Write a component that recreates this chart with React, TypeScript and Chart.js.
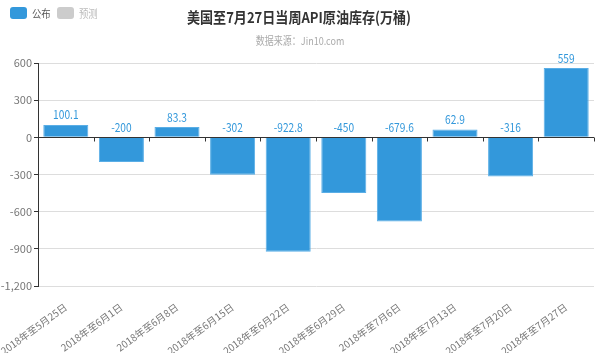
import React, { useEffect, useRef } from "react";
import { Chart, registerables } from "chart.js";

Chart.register(...registerables);

const categories = [
  "2018年至5月25日",
  "2018年至6月1日",
  "2018年至6月8日",
  "2018年至6月15日",
  "2018年至6月22日",
  "2018年至6月29日",
  "2018年至7月6日",
  "2018年至7月13日",
  "2018年至7月20日",
  "2018年至7月27日",
];
const published = [100.1, -200, 83.3, -302, -922.8, -450, -679.6, 62.9, -316, 559];
const forecast: (number | null)[] = [null, null, null, null, null, null, null, null, null, null];
const titleText = "美国至7月27日当周API原油库存(万桶)";
const subtitleText = "数据来源：Jin10.com";
const legendLabels = ["公布", "预测"];

const BLUE = "#3398DB";
const GRAY = "#cccccc";
const FONT = "'Noto Sans CJK SC', 'Microsoft YaHei', sans-serif";

function condensedText(ctx: any, text: string, x: number, y: number, sx: number) {
  ctx.save();
  ctx.translate(x, y);
  ctx.scale(sx, 1);
  ctx.fillText(text, 0, 0);
  ctx.restore();
}

const overlay = {
  id: "overlay",
  afterDraw(chart: any) {
    const ctx = chart.ctx;
    const area = chart.chartArea;
    ctx.save();
    // title
    ctx.textAlign = "center";
    ctx.textBaseline = "middle";
    ctx.fillStyle = "#333";
    ctx.font = `bold 15px ${FONT}`;
    condensedText(ctx, titleText, 299, 17, 0.87);
    ctx.fillStyle = "#aaa";
    ctx.font = `11px ${FONT}`;
    condensedText(ctx, subtitleText, 300, 41, 0.82);
    // legend
    const items = [
      { label: legendLabels[0], color: BLUE, x: 10 },
      { label: legendLabels[1], color: GRAY, x: 57 },
    ];
    items.forEach((it) => {
      ctx.fillStyle = it.color;
      const r = 3;
      const x = it.x, y = 7, w = 17, h = 12;
      ctx.beginPath();
      ctx.moveTo(x + r, y);
      ctx.arcTo(x + w, y, x + w, y + h, r);
      ctx.arcTo(x + w, y + h, x, y + h, r);
      ctx.arcTo(x, y + h, x, y, r);
      ctx.arcTo(x, y, x + w, y, r);
      ctx.closePath();
      ctx.fill();
      ctx.fillStyle = it.label === legendLabels[0] ? "#555" : "#bbb";
      ctx.font = `11px ${FONT}`;
      ctx.textAlign = "left";
      ctx.textBaseline = "middle";
      condensedText(ctx, it.label, x + w + 5, y + h / 2 + 0.5, 0.85);
    });
    // zero line and category ticks
    const yScale = chart.scales.y;
    const y0 = Math.round(yScale.getPixelForValue(0)) + 0.5;
    ctx.strokeStyle = "#333";
    ctx.lineWidth = 1;
    ctx.beginPath();
    ctx.moveTo(area.left, y0);
    ctx.lineTo(area.right, y0);
    const n = categories.length;
    for (let i = 1; i <= n; i++) {
      const px = Math.round(area.left + ((area.right - area.left) * i) / n) + 0.5;
      ctx.moveTo(px, y0);
      ctx.lineTo(px, y0 + 4);
    }
    ctx.stroke();
    // data labels
    const meta = chart.getDatasetMeta(0);
    ctx.fillStyle = BLUE;
    ctx.font = `12px ${FONT}`;
    ctx.textAlign = "center";
    ctx.textBaseline = "bottom";
    meta.data.forEach((bar: any, i: number) => {
      const v = published[i];
      const top = yScale.getPixelForValue(Math.max(0, v));
      condensedText(ctx, String(v), bar.x, top - 4, 0.85);
    });
    ctx.restore();
  },
};

export default function App() {
  const ref = useRef<HTMLCanvasElement>(null);
  useEffect(() => {
    document.body.style.margin = "0";
    const chart = new Chart(ref.current!, {
      type: "bar",
      data: {
        labels: categories,
        datasets: [
          {
            label: legendLabels[0],
            data: published,
            backgroundColor: BLUE,
            borderColor: "#5aaee6",
            borderWidth: 1,
            barPercentage: 0.81,
            categoryPercentage: 1,
          },
          {
            label: legendLabels[1],
            data: forecast,
            backgroundColor: GRAY,
            barPercentage: 0.81,
            categoryPercentage: 1,
            grouped: false,
          } as any,
        ],
      },
      options: {
        animation: false,
        responsive: false,
        layout: { padding: { top: 63, right: 6, left: 0, bottom: 0 } },
        plugins: {
          legend: { display: false },
          title: { display: false },
          tooltip: { enabled: false },
        },
        scales: {
          x: {
            grid: { display: false },
            border: { display: false },
            ticks: {
              minRotation: 36,
              maxRotation: 36,
              autoSkip: false,
              color: "#777",
              font: { size: 10, family: FONT },
              padding: 7,
            },
            afterFit(scale: any) {
              scale.height = 67;
              scale.paddingLeft = 0;
              scale.paddingRight = 0;
            },
          },
          y: {
            min: -1200,
            max: 600,
            grid: {
              color: "#dddddd",
              tickColor: "#333",
              tickLength: 4,
            },
            border: { color: "#333" },
            ticks: {
              stepSize: 300,
              color: "#777",
              font: { size: 11, family: FONT },
              padding: 2,
            },
            afterFit(scale: any) {
              scale.width = 38;
              scale.paddingTop = 0;
              scale.paddingBottom = 0;
            },
          },
        },
      },
      plugins: [overlay],
    });
    return () => chart.destroy();
  }, []);
  return (
    <div style={{ width: 600, height: 353 }}>
      <canvas ref={ref} width={600} height={353} style={{ display: "block" }} />
    </div>
  );
}
